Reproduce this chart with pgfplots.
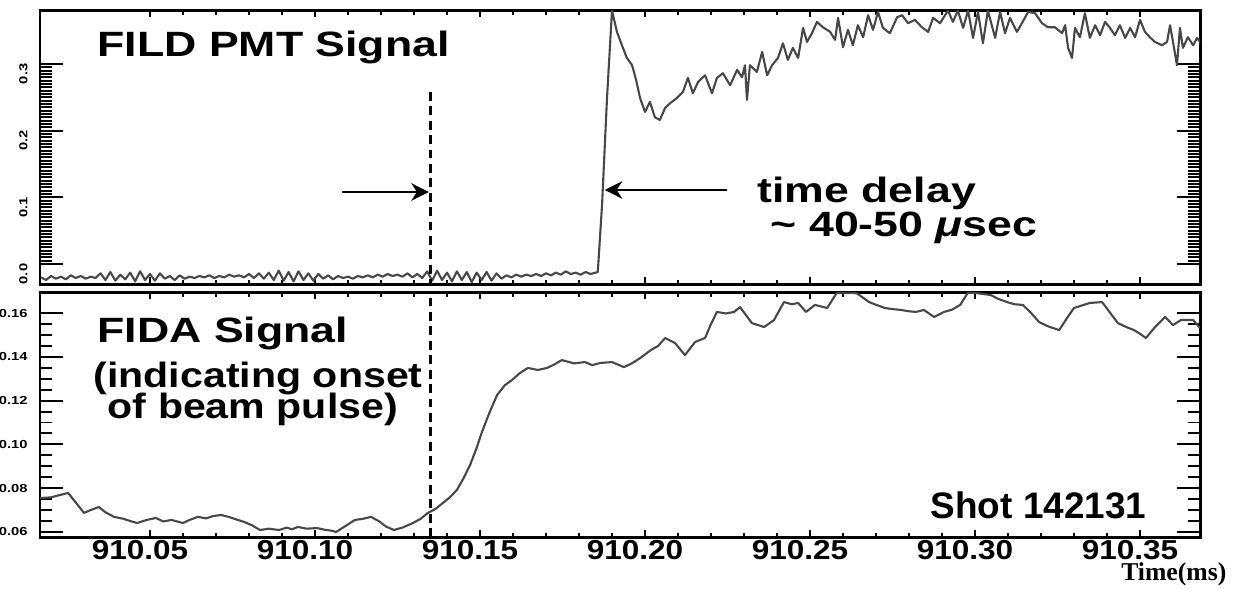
\documentclass[border=0pt]{standalone}
\usepackage{fontspec}
\setmainfont{Liberation Sans}
\newfontfamily\widefont[FakeStretch=1.27]{Liberation Sans}
\newfontfamily\midfont[FakeStretch=1.17]{Liberation Sans}
\newfontfamily\tickfont[FakeStretch=1.15]{Liberation Sans}
\newfontfamily\tnr{Liberation Serif}
\usepackage{pgfplots}
\pgfplotsset{compat=1.18}
\usetikzlibrary{arrows.meta}
\definecolor{sig}{HTML}{484848}
% keep full precision of times like 910.1855: drop the constant 910 from the (string) mantissa
\def\stripfl 1Y9.10#1e2]#2\relax{\def\pgfmathresult{0.#1}}
\def\xtrafo#1{\pgfmathfloatparsenumber{#1}\expandafter\stripfl\pgfmathresult\relax}
\tikzset{dashv/.style={line width=0.75pt, dash pattern=on 2.5pt off 1.6pt}}
\pgfplotsset{
  panel/.style={
    scale only axis, width=11.6cm,
    x coord trafo/.code={\xtrafo{##1}},
    xmin=910.01667, xmax=910.36818,
    axis line style={line width=0.85pt,black},
    tick style={line width=0.55pt,black},
    tick align=inside,
    major tick length=0.23cm, minor tick length=0.12cm,
    xtick={910.05,910.10,910.15,910.20,910.25,910.30,910.35},
    minor x tick num=4,
    xtick style={/pgfplots/major tick length=0.07cm,/pgfplots/minor tick length=0.045cm},
    clip mode=individual,
    /pgf/number format/assume math mode=true,
  },
  sigline/.style={color=sig, line width=0.6pt, line join=round, mark=none},
}
\newcommand{\annfont}{\widefont\bfseries\fontsize{10}{12}\selectfont}
\newcommand{\annfontb}{\midfont\bfseries\fontsize{10}{12}\selectfont}
\begin{document}
\begin{tikzpicture}
\useasboundingbox (-0.40cm,-0.51cm) rectangle (11.96cm,5.37cm);
% ---------------- bottom panel: FIDA ----------------
\begin{axis}[panel, at={(0,0)}, anchor=south west, height=2.45cm,
  ymin=0.0577, ymax=0.1696,
  ytick={0.06,0.08,0.10,0.12,0.14,0.16},
  yticklabels={0.06,0.08,0.10,0.12,0.14,0.16},
  minor y tick num=3,
  xticklabels={910.05,910.10,910.15,910.20,910.25,910.30,910.35},
  xticklabel style={font=\tickfont\bfseries\fontsize{7.8}{9}\selectfont, xshift=-0.10cm, yshift=0.09cm},
  yticklabel style={font=\widefont\fontsize{3.3}{4}\selectfont\bfseries},
  xlabel={Time(ms)},
  xlabel style={at={(rel axis cs:1,0)}, anchor=north east, xshift=0.27cm, yshift=-0.25cm,
    font=\tnr\bfseries\fontsize{7.3}{8}\selectfont, inner sep=0pt},
]
\addplot[sigline] coordinates {
(910.01667,0.0755) (910.0200,0.0758) (910.0230,0.0770) (910.0252,0.0778) (910.0275,0.0735)
(910.0300,0.0687) (910.0320,0.0700) (910.0345,0.0714) (910.0365,0.0690) (910.0391,0.0669)
(910.0420,0.0660) (910.0440,0.0650) (910.0461,0.0641) (910.0490,0.0655) (910.0518,0.0664)
(910.0540,0.0648) (910.0565,0.0655) (910.0600,0.0641) (910.0620,0.0655) (910.0645,0.0669)
(910.0670,0.0662) (910.0690,0.0672) (910.0715,0.0678) (910.0740,0.0668) (910.0760,0.0658)
(910.0785,0.0646) (910.0810,0.0630) (910.0833,0.0609) (910.0860,0.0615) (910.0891,0.0609)
(910.0915,0.0620) (910.0930,0.0612) (910.0948,0.0623) (910.0975,0.0615) (910.1006,0.0618)
(910.1030,0.0610) (910.1050,0.0606) (910.1064,0.0600) (910.1090,0.0625) (910.1121,0.0655)
(910.1145,0.0660) (910.1170,0.0669) (910.1195,0.0648) (910.1215,0.0625) (910.1239,0.0609)
(910.1265,0.0620) (910.1297,0.0641) (910.1320,0.0660) (910.1342,0.0687) (910.1365,0.0705)
(910.1388,0.0733) (910.1410,0.0760) (910.1430,0.0792) (910.1450,0.0845) (910.1470,0.0906)
(910.1490,0.0985) (910.1506,0.1057) (910.1530,0.1150) (910.1552,0.1226) (910.1575,0.1270)
(910.1597,0.1294) (910.1620,0.1325) (910.1645,0.1349) (910.1675,0.1340) (910.1703,0.1349)
(910.1725,0.1365) (910.1748,0.1385) (910.1785,0.1370) (910.1818,0.1376) (910.1840,0.1362)
(910.1864,0.1372) (910.1900,0.1376) (910.1936,0.1353) (910.1960,0.1370) (910.1985,0.1394)
(910.2018,0.1431) (910.2040,0.1450) (910.2061,0.1486) (910.2091,0.1463) (910.2121,0.1408)
(910.2152,0.1468) (910.2182,0.1486) (910.2200,0.1550) (910.2218,0.1605) (910.2245,0.1598)
(910.2270,0.1605) (910.2288,0.1627) (910.2324,0.1554) (910.2361,0.1536) (910.2391,0.1568)
(910.2421,0.1650) (910.2445,0.1640) (910.2464,0.1646) (910.2488,0.1605) (910.2515,0.1637)
(910.2552,0.1623) (910.2582,0.1694) (910.2610,0.1694) (910.2642,0.1690) (910.2679,0.1650)
(910.2705,0.1635) (910.2727,0.1623) (910.2750,0.1618) (910.2776,0.1614) (910.2800,0.1608)
(910.2821,0.1605) (910.2845,0.1614) (910.2876,0.1582) (910.2906,0.1605) (910.2930,0.1615)
(910.2955,0.1637) (910.2979,0.1694) (910.3010,0.1690) (910.3048,0.1682) (910.3070,0.1665)
(910.3097,0.1650) (910.3120,0.1640) (910.3145,0.1637) (910.3170,0.1600) (910.3194,0.1559)
(910.3220,0.1540) (910.3255,0.1522) (910.3280,0.1580) (910.3300,0.1623) (910.3325,0.1635)
(910.3348,0.1646) (910.3385,0.1650) (910.3410,0.1600) (910.3433,0.1554) (910.3460,0.1535)
(910.3482,0.1522) (910.3500,0.1505) (910.3518,0.1486) (910.3545,0.1535) (910.3576,0.1582)
(910.3600,0.1545) (910.3624,0.1568) (910.3661,0.1568) (910.36818,0.1532)
};
\draw[dashv] (axis cs:910.135,0.0577) -- (axis cs:910.135,0.1696);
\node[anchor=west, inner sep=0pt, font=\annfont] at (axis cs:910.0339,0.1505) {FIDA Signal};
\node[anchor=west, inner sep=0pt, font=\annfontb] at (axis cs:910.0327,0.1300) {(indicating onset};
\node[anchor=west, inner sep=0pt, font=\annfontb] at (axis cs:910.0370,0.1160) {of beam pulse)};
\node[anchor=west, inner sep=0pt, font=\bfseries\fontsize{10.5}{12}\selectfont] at (axis cs:910.2864,0.0723) {Shot 142131};
\end{axis}
% ---------------- top panel: FILD PMT ----------------
\begin{axis}[panel, at={(0,2.53cm)}, anchor=south west, height=2.74cm,
  ymin=-0.0300, ymax=0.3808,
  ytick={0,0.1,0.2,0.3},
  yticklabels={0.0,0.1,0.2,0.3},
  minor y tick num=19,
  xticklabels={},
  yticklabel style={font=\widefont\fontsize{3.3}{4}\selectfont\bfseries, rotate=90, anchor=south, xshift=-0.10cm},
]
\addplot[sigline] coordinates {
(910.0170,-0.020) (910.0185,-0.024) (910.0200,-0.018) (910.0215,-0.022) (910.0230,-0.019)
(910.0245,-0.023) (910.0260,-0.017) (910.0275,-0.021) (910.0290,-0.018) (910.0305,-0.022)
(910.0320,-0.019) (910.0335,-0.021) (910.0350,-0.014) (910.0365,-0.024) (910.0380,-0.012)
(910.0395,-0.025) (910.0410,-0.016) (910.0425,-0.023) (910.0440,-0.013) (910.0455,-0.026)
(910.0470,-0.011) (910.0485,-0.024) (910.0500,-0.015) (910.0515,-0.025) (910.0530,-0.014)
(910.0545,-0.022) (910.0560,-0.018) (910.0575,-0.024) (910.0590,-0.017) (910.0605,-0.022)
(910.0620,-0.019) (910.0635,-0.021) (910.0650,-0.018) (910.0665,-0.020) (910.0680,-0.017)
(910.0695,-0.021) (910.0710,-0.018) (910.0725,-0.020) (910.0740,-0.016) (910.0755,-0.019)
(910.0770,-0.017) (910.0785,-0.020) (910.0800,-0.015) (910.0815,-0.021) (910.0830,-0.014)
(910.0845,-0.022) (910.0860,-0.013) (910.0875,-0.024) (910.0890,-0.010) (910.0905,-0.025)
(910.0920,-0.012) (910.0935,-0.026) (910.0950,-0.011) (910.0965,-0.024) (910.0980,-0.014)
(910.0995,-0.025) (910.1010,-0.015) (910.1025,-0.022) (910.1040,-0.017) (910.1055,-0.023)
(910.1070,-0.018) (910.1085,-0.021) (910.1100,-0.019) (910.1115,-0.022) (910.1130,-0.018)
(910.1145,-0.020) (910.1160,-0.017) (910.1175,-0.020) (910.1190,-0.016) (910.1205,-0.019)
(910.1220,-0.015) (910.1235,-0.018) (910.1250,-0.016) (910.1265,-0.019) (910.1280,-0.014)
(910.1295,-0.020) (910.1310,-0.015) (910.1325,-0.021) (910.1340,-0.011) (910.1355,-0.025)
(910.1370,-0.010) (910.1385,-0.024) (910.1400,-0.013) (910.1415,-0.026) (910.1430,-0.011)
(910.1445,-0.024) (910.1460,-0.012) (910.1475,-0.027) (910.1490,-0.013) (910.1505,-0.024)
(910.1520,-0.012) (910.1535,-0.025) (910.1550,-0.014) (910.1565,-0.022) (910.1580,-0.017)
(910.1595,-0.020) (910.1610,-0.016) (910.1625,-0.019) (910.1640,-0.016) (910.1655,-0.018)
(910.1670,-0.015) (910.1685,-0.018) (910.1700,-0.014) (910.1715,-0.017) (910.1730,-0.013)
(910.1745,-0.016) (910.1760,-0.011) (910.1775,-0.015) (910.1790,-0.013) (910.1805,-0.016)
(910.1820,-0.012) (910.1835,-0.015) (910.1850,-0.013) (910.1857,-0.012)
(910.1870,0.090) (910.1885,0.250) (910.1900,0.380)
(910.1915,0.348) (910.1930,0.328) (910.1945,0.309) (910.1961,0.298) (910.1973,0.276)
(910.1985,0.249) (910.2000,0.228) (910.2015,0.243) (910.2030,0.220) (910.2045,0.216)
(910.2061,0.234) (910.2076,0.241) (910.2097,0.249) (910.2115,0.258) (910.2130,0.279)
(910.2145,0.256) (910.2161,0.273) (910.2182,0.283) (910.2203,0.256) (910.2218,0.279)
(910.2236,0.286) (910.2258,0.268) (910.2279,0.291) (910.2294,0.280) (910.2303,0.298)
(910.2309,0.246) (910.2318,0.298) (910.2339,0.288) (910.2355,0.318) (910.2370,0.283)
(910.2385,0.298) (910.2403,0.309) (910.2418,0.331) (910.2433,0.306) (910.2448,0.324)
(910.2464,0.309) (910.2479,0.354) (910.2491,0.333) (910.2506,0.346) (910.2521,0.363)
(910.2539,0.355) (910.2561,0.348) (910.2576,0.336) (910.2585,0.369) (910.2600,0.325)
(910.2615,0.351) (910.2630,0.328) (910.2645,0.358) (910.2661,0.340) (910.2676,0.373)
(910.2691,0.351) (910.2706,0.378) (910.2721,0.354) (910.2742,0.346) (910.2764,0.370)
(910.2779,0.373) (910.2797,0.361) (910.2818,0.366) (910.2839,0.355) (910.2858,0.348)
(910.2873,0.369) (910.2894,0.361) (910.2918,0.380) (910.2933,0.363) (910.2948,0.380)
(910.2964,0.354) (910.2979,0.380) (910.2994,0.339) (910.3009,0.378) (910.3024,0.331)
(910.3039,0.380) (910.3061,0.339) (910.3076,0.378) (910.3091,0.346) (910.3106,0.369)
(910.3127,0.348) (910.3142,0.361) (910.3161,0.378) (910.3182,0.376) (910.3203,0.361)
(910.3221,0.355) (910.3242,0.355) (910.3264,0.346) (910.3273,0.358) (910.3282,0.324)
(910.3294,0.309) (910.3303,0.354) (910.3318,0.340) (910.3333,0.376) (910.3348,0.339)
(910.3364,0.358) (910.3379,0.343) (910.3394,0.363) (910.3409,0.354) (910.3424,0.343)
(910.3439,0.358) (910.3455,0.339) (910.3470,0.354) (910.3485,0.340) (910.3500,0.366)
(910.3515,0.348) (910.3530,0.340) (910.3545,0.333) (910.3567,0.328) (910.3582,0.333)
(910.3591,0.358) (910.3600,0.333) (910.3612,0.298) (910.3621,0.354) (910.3630,0.324)
(910.3645,0.340) (910.3661,0.328) (910.3673,0.339) (910.36818,0.333)
};
\draw[dashv] (axis cs:910.135,0.258) -- (axis cs:910.135,-0.0300);
\draw[line width=0.6pt, -{Stealth[length=5pt,width=5pt]}] (axis cs:910.1082,0.108) -- (axis cs:910.1345,0.108);
\draw[line width=0.6pt, -{Stealth[length=5pt,width=5pt]}] (axis cs:910.2248,0.111) -- (axis cs:910.1878,0.111);
\node[anchor=west, inner sep=0pt, font=\annfont] at (axis cs:910.0339,0.325) {FILD PMT Signal};
\node[anchor=west, inner sep=0pt, font=\annfont] at (axis cs:910.2339,0.106) {time delay};
\node[anchor=west, inner sep=0pt, font=\annfont] at (axis cs:910.2379,0.054) {\textasciitilde\ 40-50 {\itshape μ}sec};
\end{axis}
\end{tikzpicture}
\end{document}
